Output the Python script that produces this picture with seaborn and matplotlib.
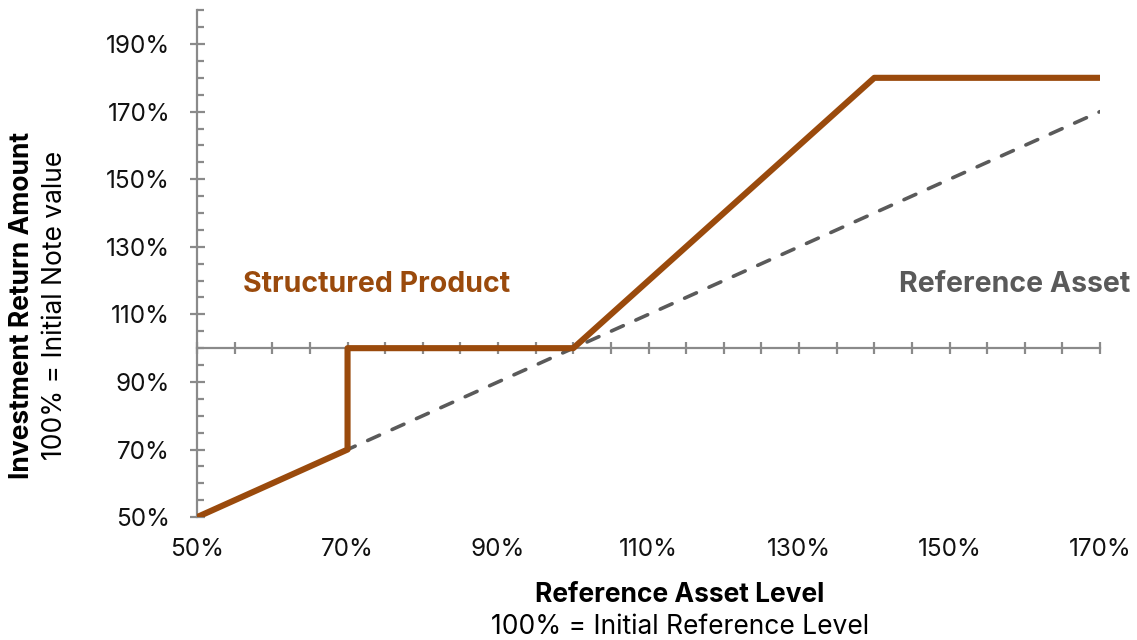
import pandas as pd
import matplotlib.pyplot as plt
import seaborn as sns

# dados do payoff (nível do ativo em %, retorno em %)
produto_x = [50, 70, 70, 100, 140, 170]
produto_y = [50, 70, 100, 100, 180, 180]
ativo_x = [50, 170]
ativo_y = [50, 170]

x_ticks = [50, 70, 90, 110, 130, 150, 170]
y_ticks = [50, 70, 90, 110, 130, 150, 170, 190]

cor_produto = '#9A4A0C'
cor_ativo = '#5A5A5A'
cor_eixo = '#8A8A8A'
cor_texto = '#111111'

sns.set_theme(style="white")
plt.rcParams['font.family'] = ['Inter', 'DejaVu Sans']

df_prod = pd.DataFrame({'x': produto_x, 'y': produto_y})
df_ativo = pd.DataFrame({'x': ativo_x, 'y': ativo_y})

fig = plt.figure(figsize=(11.37, 6.4), dpi=100)
ax = fig.add_axes([0.1733, 0.192, 0.7942, 0.792])

# estimator=None para não agregar os dois pontos em x=70
sns.lineplot(data=df_ativo, x='x', y='y', sort=False, estimator=None,
             color=cor_ativo, lw=2.6, ax=ax, zorder=2)
ax.lines[-1].set_linestyle((0, (3.6, 3.8)))
ax.lines[-1].set_dash_capstyle('round')
sns.lineplot(data=df_prod, x='x', y='y', sort=False, estimator=None,
             color=cor_produto, lw=4.4, ax=ax, zorder=3)

ax.set_xlim(50, 170)
ax.set_ylim(50, 200)

for s in ['top', 'right']:
    ax.spines[s].set_visible(False)
ax.spines['bottom'].set_position(('data', 100))
for s in ['bottom', 'left']:
    ax.spines[s].set_color(cor_eixo)
    ax.spines[s].set_linewidth(1.6)

# eixo x: marcas no spine em 100%, rótulos embaixo
ax.set_xticks(x_ticks)
ax.set_xticks(range(50, 171, 5), minor=True)
ax.xaxis.remove_overlapping_locs = False
ax.tick_params(axis='x', which='major', direction='out', length=6.5, width=1.6,
               color=cor_eixo, labelbottom=False)
ax.tick_params(axis='x', which='minor', direction='inout', length=8.6, width=1.6,
               color=cor_eixo, bottom=True)

sec = ax.secondary_xaxis('bottom')
sec.set_xticks(x_ticks)
sec.set_xticklabels([f'{v}%' for v in x_ticks])
sec.tick_params(length=0, pad=15, labelsize=17.5, labelcolor=cor_texto)
sec.spines['bottom'].set_visible(False)

# eixo y
ax.set_yticks(y_ticks)
ax.set_yticklabels([f'{v}%' for v in y_ticks])
ax.set_yticks(range(50, 201, 5), minor=True)
ax.tick_params(axis='y', which='major', direction='inout', length=10.8, width=1.6,
               color=cor_eixo, left=True, pad=14, labelsize=17.5, labelcolor=cor_texto)
ax.tick_params(axis='y', which='minor', direction='in', length=5, width=1.6,
               color=cor_eixo, left=True)

ax.set_xlabel('')
ax.set_ylabel('')

ax.text(56.1, 118.7, 'Structured Product', color=cor_produto, fontsize=20.5,
        fontweight='bold', va='center', ha='left', clip_on=False)
ax.text(174, 118.7, 'Reference Asset', color=cor_ativo, fontsize=20.5,
        fontweight='bold', va='center', ha='right', clip_on=False)

fig.text(680 / 1137, 1 - 595 / 640, 'Reference Asset Level', fontsize=19,
         fontweight='bold', ha='center', va='center', color='black')
fig.text(680 / 1137, 1 - 627 / 640, '100% = Initial Reference Level', fontsize=19,
         ha='center', va='center', color='black')
fig.text(22 / 1137, 1 - 305 / 640, 'Investment Return Amount', fontsize=19,
         fontweight='bold', ha='center', va='center', rotation=90, color='black')
fig.text(55 / 1137, 1 - 305 / 640, '100% = Initial Note value', fontsize=19,
         ha='center', va='center', rotation=90, color='black')

fig.savefig('out.png', dpi=100)
